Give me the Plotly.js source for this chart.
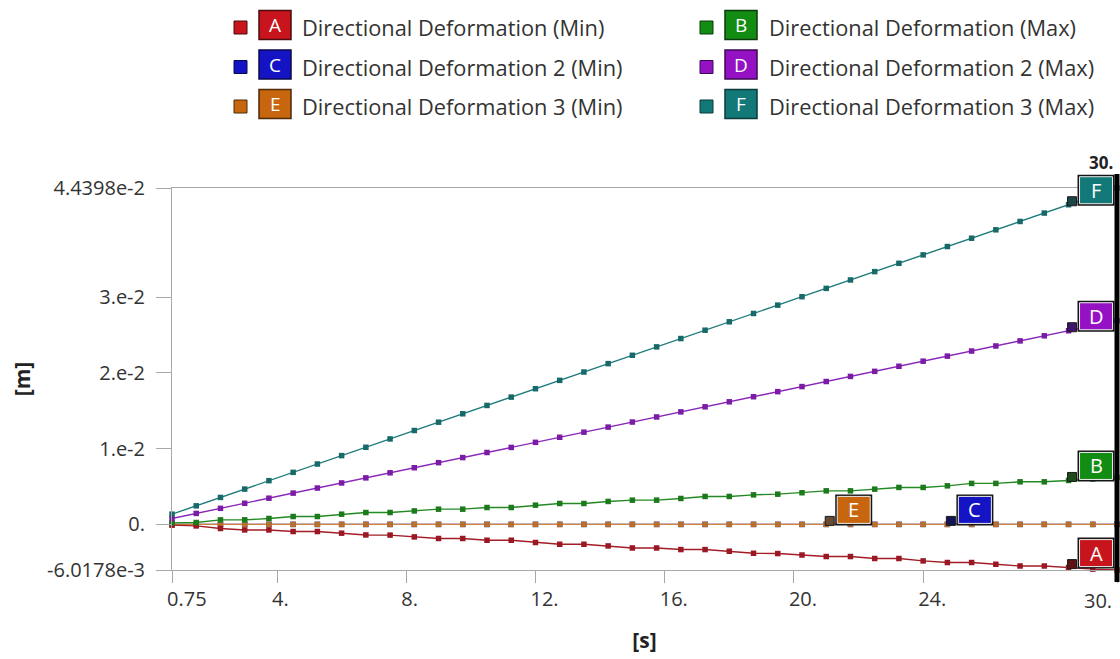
<!DOCTYPE html>
<html>
<head>
<meta charset="utf-8">
<script src="https://cdn.plot.ly/plotly-3.0.1.min.js"></script>
<style>
  html, body { margin: 0; padding: 0; background: #ffffff; }
  #chart { width: 1120px; height: 659px; }
</style>
</head>
<body>
<div id="chart"></div>
<script>
// Time steps [s]
const time = [0.75, 1.5, 2.25, 3, 3.75, 4.5, 5.25, 6, 6.75, 7.5,
  8.25, 9, 9.75, 10.5, 11.25, 12, 12.75, 13.5, 14.25, 15,
  15.75, 16.5, 17.25, 18, 18.75, 19.5, 20.25, 21, 21.75, 22.5,
  23.25, 24, 24.75, 25.5, 26.25, 27, 27.75, 28.5, 29.25, 30];

// A - Directional Deformation (Min) [m]
const dirDefMin = [-0.0001, -0.0002, -0.00054, -0.00073, -0.00073, -0.00094, -0.00094, -0.00116, -0.00139, -0.00141,
  -0.00165, -0.00186, -0.00186, -0.00209, -0.00209, -0.00239, -0.00262, -0.00262, -0.00284, -0.00311,
  -0.00311, -0.00332, -0.00332, -0.00354, -0.00381, -0.00385, -0.00404, -0.00424, -0.00424, -0.0045,
  -0.0045, -0.00482, -0.00503, -0.00503, -0.00526, -0.00549, -0.00549, -0.0057, -0.0059, -0.0060178];

// B - Directional Deformation (Max) [m]
const dirDefMax = [0.0002, 0.00025, 0.0006, 0.0006, 0.00078, 0.00104, 0.00104, 0.00135, 0.00157, 0.00157,
  0.00178, 0.00201, 0.00201, 0.00223, 0.00223, 0.00254, 0.00276, 0.00276, 0.00303, 0.0032,
  0.0032, 0.00342, 0.00369, 0.00369, 0.0039, 0.00399, 0.00418, 0.00443, 0.00443, 0.00465,
  0.00488, 0.00488, 0.00509, 0.00541, 0.00541, 0.00562, 0.00562, 0.0058, 0.006, 0.0062];

// C - Directional Deformation 2 (Min) [m]
const dirDef2Min = [0, 0, 0, 0, 0, 0, 0, 0, 0, 0,
  0, 0, 0, 0, 0, 0, 0, 0, 0, 0,
  0, 0, 0, 0, 0, 0, 0, 0, 0, 0,
  0, 0, 0, 0, 0, 0, 0, 0, 0, 0];

// D - Directional Deformation 2 (Max) [m]
const dirDef2Max = [0.00078, 0.00145, 0.00212, 0.00279, 0.00346, 0.00413, 0.0048, 0.00547, 0.00614, 0.00681,
  0.00748, 0.00815, 0.00882, 0.00949, 0.01016, 0.01083, 0.0115, 0.01217, 0.01284, 0.01351,
  0.01418, 0.01485, 0.01552, 0.01618, 0.01685, 0.01752, 0.01819, 0.01886, 0.01953, 0.0202,
  0.02087, 0.02154, 0.02221, 0.02288, 0.02355, 0.02422, 0.02489, 0.02556, 0.02623, 0.0269];

// E - Directional Deformation 3 (Min) [m]
const dirDef3Min = [0, 0, 0, 0, 0, 0, 0, 0, 0, 0,
  0, 0, 0, 0, 0, 0, 0, 0, 0, 0,
  0, 0, 0, 0, 0, 0, 0, 0, 0, 0,
  0, 0, 0, 0, 0, 0, 0, 0, 0, 0];

// F - Directional Deformation 3 (Max) [m]
const dirDef3Max = [0.00135, 0.00245, 0.00356, 0.00466, 0.00577, 0.00687, 0.00797, 0.00908, 0.01018, 0.01128,
  0.01239, 0.01349, 0.0146, 0.0157, 0.0168, 0.01791, 0.01901, 0.02011, 0.02122, 0.02232,
  0.02343, 0.02453, 0.02563, 0.02674, 0.02784, 0.02894, 0.03005, 0.03115, 0.03226, 0.03336,
  0.03446, 0.03557, 0.03667, 0.03777, 0.03888, 0.03998, 0.04109, 0.04219, 0.04329, 0.044398];

// Legend / probe labels
const seriesLetters = ['A', 'B', 'C', 'D', 'E', 'F'];
const seriesNames = ['Directional Deformation (Min)', 'Directional Deformation (Max)',
  'Directional Deformation 2 (Min)', 'Directional Deformation 2 (Max)',
  'Directional Deformation 3 (Min)', 'Directional Deformation 3 (Max)'];
// Time at which each series' probe label is pinned
const probeTimes = [28.5, 28.5, 24.75, 28.5, 21, 28.5];

// Axis ticks
const xRange = [0.75, 30];
const yRange = [-0.0060178, 0.044398];
const xTickVals = [0.75, 4, 8, 12, 16, 20, 24, 30];
const xTickText = ['0.75', '4.', '8.', '12.', '16.', '20.', '24.', ''];
const yTickVals = [-0.0060178, 0, 0.01, 0.02, 0.03, 0.044398];
const yTickText = ['-6.0178e-3', '0.', '1.e-2', '2.e-2', '3.e-2', '4.4398e-2'];
const cursorTime = 30;
const cursorLabel = '30.';

// ---- styling ----
const seriesData = [dirDefMin, dirDefMax, dirDef2Min, dirDef2Max, dirDef3Min, dirDef3Max];
const lineColors   = ['#a31c26', '#238a23', '#1a1ab0', '#8a26b8', '#cf8238', '#1c7a7a'];
const markerColors = ['#9a1824', '#1c7a1c', '#12129a', '#7a1ca6', '#b8702e', '#186a6a'];
const boxColors    = ['#c8141c', '#138c13', '#1414c4', '#9412c4', '#c8660f', '#137878'];
const boxEdge      = ['#4a0c0c', '#0c3a0c', '#0a0a4a', '#3a0a50', '#4a2a0a', '#0a3a3a'];
const anchorColors = ['#5a1416', '#1e4a1e', '#14145a', '#40146a', '#6a4a30', '#1e4646'];
const FONT = '"Open Sans", "Noto Sans", sans-serif';
const TEXT = '#333333';
const AXIS = '#a8a8a8';

// Plot frame in pixels
const W = 1120, H = 659;
const M = { l: 172, r: 3, t: 188, b: 89 };
const PW = W - M.l - M.r, PH = H - M.t - M.b;
const fx = px => (px - M.l) / PW;
const fy = py => (H - M.b - py) / PH;
// data -> paper fraction (labels are drawn unclipped on the paper layer)
const dx = t => (t - xRange[0]) / (xRange[1] - xRange[0]);
const dy = v => (v - yRange[0]) / (yRange[1] - yRange[0]);

// draw the zero-valued "2 (Min)" first so the orange "3 (Min)" sits on top
const drawOrder = [2, 4, 0, 1, 3, 5];
const traces = drawOrder.map(i => ({
  type: 'scatter',
  mode: 'lines+markers',
  x: time,
  y: seriesData[i],
  name: seriesNames[i],
  line: { color: lineColors[i], width: 1.4 },
  marker: { symbol: 'square', size: 5.5, color: markerColors[i] },
  cliponaxis: false,
  hoverinfo: 'skip',
  showlegend: false
}));

const shapes = [];
const annotations = [];

// cursor line at the last time step
shapes.push({
  type: 'line', xref: 'paper', yref: 'paper',
  x0: dx(cursorTime), x1: dx(cursorTime), y0: fy(582), y1: fy(174),
  line: { color: '#000000', width: 5 }, layer: 'above'
});
annotations.push({
  xref: 'paper', yref: 'paper', x: dx(cursorTime), y: fy(149),
  xanchor: 'right', yanchor: 'top', xshift: -2,
  text: '<b>' + cursorLabel + '</b>', showarrow: false,
  font: { family: FONT, size: 17, color: '#222222' }
});
// last x tick label, right-aligned at the axis end
annotations.push({
  xref: 'paper', yref: 'paper', x: dx(cursorTime), y: fy(585),
  xanchor: 'right', yanchor: 'top', xshift: -3,
  text: cursorLabel, showarrow: false,
  font: { family: FONT, size: 20, color: TEXT }
});

// probe labels pinned on each series
seriesLetters.forEach((letter, i) => {
  const t = probeTimes[i];
  const v = seriesData[i][time.indexOf(t)];
  const px = { xref: 'paper', yref: 'paper', xsizemode: 'pixel', ysizemode: 'pixel',
    xanchor: dx(t), yanchor: dy(v), layer: 'above' };
  shapes.push(Object.assign({}, px, { type: 'rect', x0: -1, x1: 8, y0: -1, y1: 8,
    fillcolor: anchorColors[i], line: { color: '#1a1a1a', width: 1 } }));
  shapes.push(Object.assign({}, px, { type: 'rect', x0: 9, x1: 46, y0: -1, y1: 30,
    fillcolor: '#151515', line: { width: 0 } }));
  shapes.push(Object.assign({}, px, { type: 'rect', x0: 11, x1: 44, y0: 1, y1: 28,
    fillcolor: boxColors[i], line: { color: '#eeeeee', width: 1 } }));
  annotations.push({
    xref: 'paper', yref: 'paper', x: dx(t), y: dy(v), xshift: 27.5, yshift: 14.5,
    xanchor: 'center', yanchor: 'middle', showarrow: false,
    text: letter, font: { family: FONT, size: 20, color: '#ffffff' }
  });
});

// legend: two columns, three rows
const legCols = [{ sq: 234, box: 259, txt: 300 }, { sq: 700, box: 725, txt: 767 }];
seriesLetters.forEach((letter, i) => {
  const c = legCols[i % 2];
  const row = Math.floor(i / 2);
  const cy = 25 + 39.5 * row;
  shapes.push({ type: 'rect', xref: 'paper', yref: 'paper',
    x0: fx(c.sq), x1: fx(c.sq + 13), y0: fy(cy + 9), y1: fy(cy - 4),
    fillcolor: boxColors[i], line: { color: boxEdge[i], width: 1 } });
  shapes.push({ type: 'rect', xref: 'paper', yref: 'paper',
    x0: fx(c.box), x1: fx(c.box + 32), y0: fy(cy + 14.5), y1: fy(cy - 14.5),
    fillcolor: boxColors[i], line: { color: boxEdge[i], width: 1.5 } });
  annotations.push({ xref: 'paper', yref: 'paper', x: fx(c.box + 16), y: fy(cy),
    xanchor: 'center', yanchor: 'middle', showarrow: false,
    text: letter, font: { family: FONT, size: 19, color: '#ffffff' } });
  annotations.push({ xref: 'paper', yref: 'paper', x: fx(c.txt), y: fy(cy + 2.5),
    xanchor: 'left', yanchor: 'middle', showarrow: false,
    text: seriesNames[i], font: { family: FONT, size: 21.8, color: TEXT } });
});

const layout = {
  width: W, height: H,
  margin: M,
  paper_bgcolor: '#ffffff', plot_bgcolor: '#ffffff',
  font: { family: FONT, size: 20, color: TEXT },
  showlegend: false,
  xaxis: {
    range: xRange, showgrid: false, zeroline: false,
    showline: true, linecolor: AXIS, linewidth: 1, mirror: true,
    ticks: 'outside', ticklen: 12, tickcolor: AXIS, tickwidth: 1,
    tickvals: xTickVals, ticktext: xTickText,
    ticklabelposition: 'outside right', ticklabelshift: -6, ticklabelstandoff: 11,
    tickfont: { family: FONT, size: 20, color: TEXT },
    title: { text: '<b>[s]</b>', font: { family: FONT, size: 21, color: '#222222' }, standoff: 22 }
  },
  yaxis: {
    range: yRange, showgrid: false, zeroline: false,
    showline: true, linecolor: AXIS, linewidth: 1,
    ticks: 'outside', ticklen: 15, tickcolor: AXIS, tickwidth: 1,
    tickvals: yTickVals, ticktext: yTickText, ticklabelstandoff: 7,
    tickfont: { family: FONT, size: 20, color: TEXT },
    title: { text: '<b>[m]</b>', font: { family: FONT, size: 21, color: '#222222' }, standoff: 10 }
  },
  shapes: shapes,
  annotations: annotations
};

Plotly.newPlot('chart', traces, layout, { displayModeBar: false, staticPlot: true });
</script>
</body>
</html>
